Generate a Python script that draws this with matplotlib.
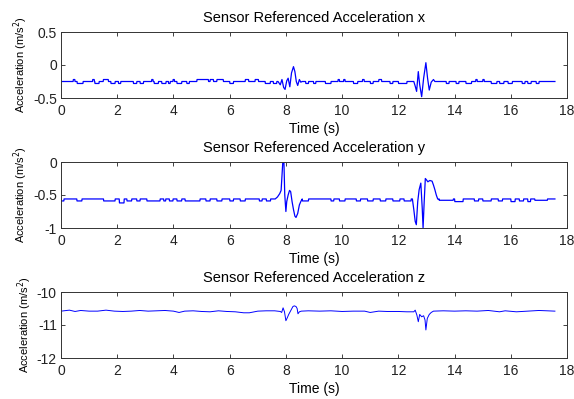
import matplotlib
matplotlib.use("Agg")
import matplotlib.pyplot as plt

plt.rcParams['font.family'] = ['Liberation Sans', 'DejaVu Sans']
plt.rcParams['axes.unicode_minus'] = False

T_END = 17.57

# ---- x acceleration ----
x_base = -0.25
x_blips = [(0.43, 0.49, -0.22), (0.57, 0.78, -0.28), (1.12, 1.18, -0.22), (1.2, 1.35, -0.28),
           (1.5, 1.68, -0.22), (1.77, 1.92, -0.28), (2.04, 2.12, -0.28), (2.57, 2.69, -0.28),
           (2.81, 2.93, -0.28), (3.22, 3.27, -0.22), (3.31, 3.46, -0.28), (3.58, 3.73, -0.28),
           (3.82, 3.88, -0.28), (3.98, 4.03, -0.22), (4.12, 4.29, -0.28), (4.47, 4.56, -0.28),
           (4.83, 5.24, -0.22), (5.3, 5.42, -0.22), (5.54, 5.77, -0.22), (6.0, 6.13, -0.28),
           (6.55, 6.67, -0.22), (6.9, 7.02, -0.22), (7.26, 7.44, -0.28), (7.55, 7.67, -0.28),
           (8.7, 8.8, -0.28), (8.98, 9.06, -0.28), (9.4, 9.6, -0.28), (9.85, 9.9, -0.22),
           (10.05, 10.1, -0.22), (10.4, 10.55, -0.28), (10.72, 10.78, -0.22), (11.0, 11.1, -0.28),
           (11.3, 11.4, -0.22), (11.7, 11.8, -0.28), (12.0, 12.3, -0.28),
           (13.7, 13.8, -0.28), (14.05, 14.15, -0.28), (14.4, 14.6, -0.28), (14.75, 14.8, -0.22),
           (15.0, 15.05, -0.22), (15.3, 15.5, -0.28), (15.6, 15.75, -0.28), (15.9, 16.05, -0.28),
           (16.4, 16.5, -0.28), (16.6, 16.72, -0.28), (16.9, 17.0, -0.28)]
x_ev1_t = [7.72, 7.8, 7.86, 7.92, 7.97, 8.03, 8.08, 8.14, 8.2, 8.27, 8.32, 8.37, 8.42, 8.48, 8.53, 8.58]
x_ev1_v = [-0.25, -0.3, -0.22, -0.34, -0.37, -0.24, -0.2, -0.33, -0.12, -0.025, -0.1, -0.25, -0.31, -0.22, -0.26, -0.25]
x_ev2_t = [12.55, 12.6, 12.65, 12.71, 12.76, 12.83, 12.9, 12.98, 13.04, 13.1, 13.17, 13.25, 13.3]
x_ev2_v = [-0.25, -0.32, -0.40, -0.10, -0.30, -0.48, -0.2, 0.035, -0.2, -0.38, -0.26, -0.22, -0.25]

# ---- y acceleration ----
y_base = -0.56
y_blips = [(0.0, 0.1, -0.59), (0.56, 0.74, -0.59), (1.51, 1.92, -0.59), (2.07, 2.24, -0.62),
           (2.34, 2.51, -0.59), (2.69, 2.81, -0.59), (3.05, 3.52, -0.59), (3.65, 3.72, -0.59),
           (3.85, 3.98, -0.59), (4.12, 4.29, -0.59), (4.41, 4.94, -0.59), (5.15, 5.3, -0.59),
           (5.54, 5.72, -0.59), (6.0, 6.13, -0.59), (6.37, 6.55, -0.59), (7.05, 7.15, -0.59),
           (7.3, 7.45, -0.59),
           (8.58, 8.8, -0.59), (9.6, 9.7, -0.59), (9.9, 10.1, -0.59), (10.5, 10.65, -0.59),
           (10.9, 11.1, -0.59), (11.35, 11.55, -0.59), (11.8, 12.05, -0.59), (12.2, 12.45, -0.59),
           (13.45, 13.95, -0.58), (14.0, 14.3, -0.6), (14.7, 14.85, -0.59), (15.0, 15.3, -0.59),
           (15.55, 15.7, -0.59), (16.0, 16.15, -0.6), (16.3, 16.45, -0.59), (16.6, 16.7, -0.6),
           (16.85, 17.3, -0.58)]
y_ev1_t = [7.62, 7.7, 7.78, 7.83, 7.86, 7.89, 7.93, 7.96, 8.0, 8.03, 8.08, 8.13, 8.17, 8.22,
           8.27, 8.32, 8.36, 8.42, 8.48, 8.53, 8.58]
y_ev1_v = [-0.56, -0.53, -0.48, -0.43, -0.2, 0.0, 0.0, -0.5, -0.75, -0.6, -0.5, -0.43, -0.45,
           -0.6, -0.72, -0.82, -0.84, -0.78, -0.65, -0.6, -0.56]
y_ev2_t = [12.5, 12.55, 12.6, 12.64, 12.69, 12.74, 12.8, 12.85, 12.88, 12.92, 12.96, 13.0,
           13.05, 13.12, 13.2, 13.25, 13.3, 13.35, 13.4, 13.45]
y_ev2_v = [-0.56, -0.72, -0.9, -0.95, -0.6, -0.42, -0.32, -0.7, -1.0, -0.6, -0.25, -0.27,
           -0.3, -0.28, -0.29, -0.35, -0.42, -0.5, -0.56, -0.57]

# ---- z acceleration ----
z_t = [0, 0.3, 0.5, 0.7, 1.0, 1.3, 1.6, 1.9, 2.2, 2.5, 2.8, 3.1, 3.4, 3.7, 4.0, 4.2, 4.4, 4.7,
       5.0, 5.3, 5.6, 5.9, 6.2, 6.5, 6.7, 7.0, 7.3, 7.6, 7.8,
       7.85, 7.9, 7.95, 8.0, 8.05, 8.1, 8.15, 8.2, 8.25, 8.3, 8.36, 8.4, 8.43, 8.48, 8.55,
       8.8, 9.2, 9.6, 10.0, 10.4, 10.8, 11.0, 11.3, 11.6, 12.0, 12.3, 12.55,
       12.6, 12.66, 12.71, 12.76, 12.83, 12.9, 12.95, 12.98, 13.03, 13.1, 13.17, 13.25,
       13.6, 14.0, 14.4, 14.8, 15.2, 15.6, 15.8, 16.2, 16.6, 17.0, 17.3, 17.57]
z_v = [-10.58, -10.55, -10.59, -10.56, -10.58, -10.58, -10.55, -10.58, -10.59, -10.58, -10.56,
       -10.58, -10.57, -10.56, -10.58, -10.62, -10.58, -10.57, -10.59, -10.6, -10.57, -10.59,
       -10.6, -10.63, -10.63, -10.58, -10.57, -10.57, -10.59,
       -10.62, -10.48, -10.6, -10.87, -10.78, -10.68, -10.6, -10.52, -10.44, -10.42, -10.44,
       -10.5, -10.66, -10.6, -10.58,
       -10.57, -10.58, -10.57, -10.59, -10.58, -10.58, -10.62, -10.58, -10.59, -10.59, -10.6, -10.6,
       -10.55, -10.7, -10.9, -10.68, -10.75, -10.72, -10.85, -11.15, -10.8, -10.68, -10.62, -10.58,
       -10.57, -10.58, -10.57, -10.58, -10.56, -10.6, -10.57, -10.6, -10.58, -10.56, -10.57, -10.58]

titles = ["Sensor Referenced Acceleration x", "Sensor Referenced Acceleration y",
          "Sensor Referenced Acceleration z"]
ylims = [(-0.5, 0.5), (-1, 0), (-12, -10)]
yticks = [[-0.5, 0, 0.5], [-1, -0.5, 0], [-12, -11, -10]]
ytick_labels = [["-0.5", "0", "0.5"], ["-1", "-0.5", "0"], ["-12", "-11", "-10"]]
xticks = [0, 2, 4, 6, 8, 10, 12, 14, 16, 18]


def build(base, blips, events):
    items = [(b[0], 'b', b) for b in blips] + [(e[0][0], 'e', e) for e in events]
    items.sort(key=lambda it: it[0])
    ts, vs = [0.0], [base]
    for _, kind, it in items:
        if kind == 'b':
            t0, t1, v = it
            ts += [t0, t0 + 0.01, t1, t1 + 0.01]
            vs += [base, v, v, base]
        else:
            ts += list(it[0])
            vs += list(it[1])
    ts.append(T_END)
    vs.append(base)
    return ts, vs


xt, xv = build(x_base, x_blips, [(x_ev1_t, x_ev1_v), (x_ev2_t, x_ev2_v)])
yt, yv = build(y_base, y_blips, [(y_ev1_t, y_ev1_v), (y_ev2_t, y_ev2_v)])
series = [(xt, xv), (yt, yv), (z_t, z_v)]

fig = plt.figure(figsize=(5.74, 3.99), dpi=100)
left, width, height = 61 / 574, 506 / 574, 66 / 399
bottoms = [1 - 98 / 399, 1 - 228 / 399, 1 - 358 / 399]

for i in range(3):
    ax = fig.add_axes([left, bottoms[i], width, height])
    t, v = series[i]
    ax.plot(t, v, color='#0000ff', lw=0.9 if i < 2 else 0.7)
    ax.set_xlim(0, 18)
    ax.set_ylim(*ylims[i])
    ax.set_xticks(xticks)
    ax.set_xticklabels([str(x) for x in xticks])
    ax.set_yticks(yticks[i])
    ax.set_yticklabels(ytick_labels[i])
    ax.tick_params(direction='in', top=True, right=True, length=3, width=0.6,
                   labelsize=10, colors='#222222')
    ax.tick_params(axis='x', pad=4.5)
    ax.tick_params(axis='y', pad=3)
    for s in ax.spines.values():
        s.set_linewidth(0.7)
        s.set_color('#333333')
    ax.set_title(titles[i], fontsize=10.5, pad=7)
    ax.set_xlabel("Time (s)", fontsize=10, labelpad=3)
    ax.set_ylabel("Acceleration (m/s$^2$)", fontsize=8, labelpad=2)

fig.savefig("out.png", dpi=100)
